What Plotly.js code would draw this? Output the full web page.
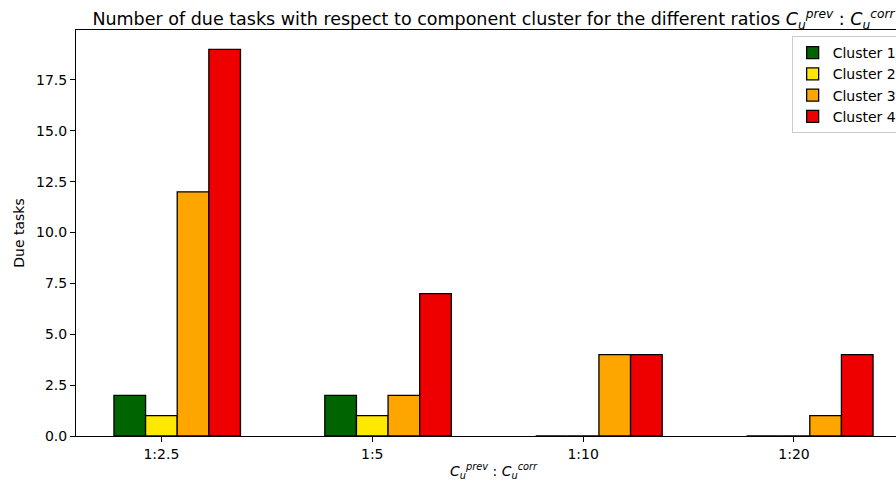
<!DOCTYPE html>
<html>
<head>
<meta charset="utf-8">
<script src="https://cdn.plot.ly/plotly-3.0.1.min.js"></script>
<style>
html,body{margin:0;padding:0;overflow:hidden;background:#fff;width:896px;height:488px;}
#chart{width:960px;height:488px;}
</style>
</head>
<body>
<div id="chart"></div>
<script>
const categories = ["1:2.5", "1:5", "1:10", "1:20"];
const seriesNames = ["Cluster 1", "Cluster 2", "Cluster 3", "Cluster 4"];
const cluster1 = [2, 2, 0, 0];
const cluster2 = [1, 1, 0, 0];
const cluster3 = [12, 2, 4, 1];
const cluster4 = [19, 7, 4, 4];
const colors = ["#006400", "#FFE800", "#FFA500", "#EE0000"];
const yTicks = [0, 2.5, 5, 7.5, 10, 12.5, 15, 17.5];

const series = [cluster1, cluster2, cluster3, cluster4];
const barW = 0.15;
const catIdx = categories.map((c, i) => i);

const traces = series.map((vals, k) => ({
  type: "bar",
  name: seriesNames[k],
  x: catIdx.map(i => i + (k - 1) * barW),
  y: vals,
  width: barW,
  marker: {color: colors[k], line: {color: "#000", width: 1.3}},
  hoverinfo: "y"
}));

const font = "DejaVu Sans, sans-serif";
const layout = {
  width: 960, height: 488,
  margin: {l: 76, r: 49, t: 30, b: 52},
  paper_bgcolor: "#fff", plot_bgcolor: "#fff",
  font: {family: font, size: 14, color: "#000"},
  title: {
    text: "Number of due tasks with respect to component cluster for the different ratios <i>C</i><sub><i>u</i></sub><sup><i>prev</i></sup> : <i>C</i><sub><i>u</i></sub><sup><i>corr</i></sup>",
    font: {family: font, size: 17.5, color: "#000"},
    x: 0.5, xref: "paper", xanchor: "center",
    y: 1, yref: "paper", yanchor: "bottom", pad: {b: 5}
  },
  showlegend: true,
  legend: {
    x: 0.99, y: 0.985, xanchor: "right", yanchor: "top",
    bgcolor: "rgba(255,255,255,0.8)", bordercolor: "#ccc", borderwidth: 1,
    font: {family: font, size: 14}, traceorder: "normal",
    itemwidth: 30, tracegroupgap: 0
  },
  xaxis: {
    range: [-0.405, 3.555],
    tickvals: catIdx, ticktext: categories,
    showgrid: false, zeroline: false,
    showline: true, linecolor: "#000", linewidth: 1, mirror: true,
    ticks: "outside", ticklen: 5, tickcolor: "#000",
    tickfont: {family: font, size: 14},
    title: {text: "<i>C</i><sub><i>u</i></sub><sup><i>prev</i></sup> : <i>C</i><sub><i>u</i></sub><sup><i>corr</i></sup>", font: {family: font, size: 14}, standoff: 5}
  },
  yaxis: {
    range: [0, 19.95],
    tickvals: yTicks, ticktext: yTicks.map(v => v.toFixed(1)),
    showgrid: false, zeroline: false,
    showline: true, linecolor: "#000", linewidth: 1, mirror: true,
    ticks: "outside", ticklen: 5, tickcolor: "#000",
    tickfont: {family: font, size: 14},
    title: {text: "Due tasks", font: {family: font, size: 14}, standoff: 8}
  },
  bargap: 0
};

Plotly.newPlot("chart", traces, layout, {displayModeBar: false, staticPlot: true});
</script>
</body>
</html>
